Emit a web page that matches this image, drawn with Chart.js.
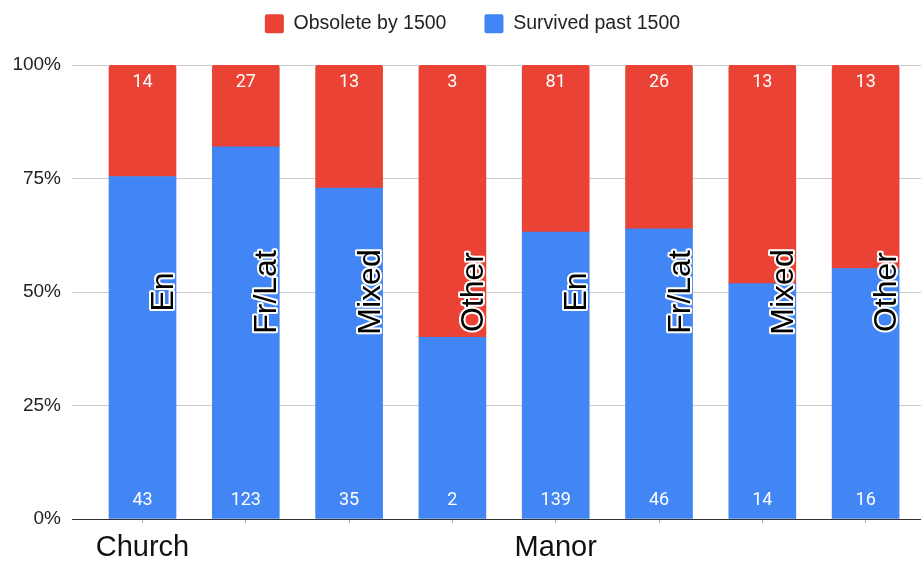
<!DOCTYPE html>
<html>
<head>
<meta charset="utf-8">
<script src="https://cdn.jsdelivr.net/npm/chart.js@4/dist/chart.umd.min.js"></script>
<style>
  html, body { margin: 0; padding: 0; background: #fff; }
  #wrap { width: 921px; height: 561px; }
</style>
</head>
<body>
<div id="wrap"><canvas id="c" width="921" height="561"></canvas></div>
<script>
// Word origin labels (one per bar) and the outer grouping row
const categories = ['En', 'Fr/Lat', 'Mixed', 'Other', 'En', 'Fr/Lat', 'Mixed', 'Other'];
const groupLabels = ['Church', 'Manor'];
const groupFirstBar = [0, 1];
const groupLastBar = [0, 7];

// Counts per bar
const survived = [43, 123, 35, 2, 139, 46, 14, 16];
const obsolete = [14, 27, 13, 3, 81, 26, 13, 13];

const seriesNames = ['Obsolete by 1500', 'Survived past 1500'];
const yTicks = [0, 25, 50, 75, 100];

const RED = '#EA4335';
const BLUE = '#4285F4';

// Shares of each bar's total, for the 100% stack
const totals = survived.map((s, i) => s + obsolete[i]);
const survivedPct = survived.map((s, i) => s / totals[i] * 100);
const obsoletePct = obsolete.map((o, i) => o / totals[i] * 100);

const toPoints = arr => arr.map((v, i) => ({ x: i, y: v }));

// Legend: fixed block height, and centred over the plot rather than the canvas
const legendPlacement = {
  id: 'legendPlacement',
  beforeInit(chart) {
    const fit = chart.legend.fit;
    chart.legend.fit = function () {
      fit.call(this);
      this.height = 89;
    };
  },
  afterLayout(chart) {
    chart.legend.left += 12;
    chart.legend.right += 12;
  }
};

// Count labels inside the segments, rotated category names, group row
const barText = {
  id: 'barText',
  afterDatasetsDraw(chart) {
    const ctx = chart.ctx;
    const blueMeta = chart.getDatasetMeta(0);
    const redMeta = chart.getDatasetMeta(1);
    const yScale = chart.scales.y;
    const xScale = chart.scales.x;
    ctx.save();
    ctx.fillStyle = '#fff';
    ctx.font = '18px Roboto';
    ctx.textAlign = 'center';
    ctx.textBaseline = 'middle';
    redMeta.data.forEach((el, i) => {
      ctx.fillText(String(obsolete[i]), el.x, el.y + 17);
    });
    blueMeta.data.forEach((el, i) => {
      ctx.fillText(String(survived[i]), el.x, el.base - 18);
    });

    // rotated names, reading upward, against the right side of each bar
    const yMid = yScale.getPixelForValue(50);
    ctx.font = '32px "Liberation Sans", Arial, sans-serif';
    ctx.textBaseline = 'alphabetic';
    ctx.lineJoin = 'round';
    blueMeta.data.forEach((el, i) => {
      const xr = el.x + el.width / 2 - 3;
      ctx.save();
      ctx.translate(xr, yMid);
      ctx.rotate(-Math.PI / 2);
      ctx.strokeStyle = '#fff';
      ctx.lineWidth = 4;
      ctx.strokeText(categories[i], 0, 0);
      ctx.fillStyle = '#000';
      ctx.fillText(categories[i], 0, 0);
      ctx.restore();
    });

    // outer group labels under the axis
    ctx.font = '29px "Liberation Sans", Arial, sans-serif';
    ctx.fillStyle = '#111';
    ctx.textBaseline = 'middle';
    groupLabels.forEach((g, k) => {
      const x = (xScale.getPixelForValue(groupFirstBar[k]) + xScale.getPixelForValue(groupLastBar[k])) / 2;
      ctx.fillText(g, x, chart.chartArea.bottom + 29);
    });
    ctx.restore();
  }
};

new Chart(document.getElementById('c'), {
  type: 'bar',
  data: {
    datasets: [
      {
        label: seriesNames[1],
        data: toPoints(survivedPct),
        backgroundColor: BLUE,
        borderWidth: 0
      },
      {
        label: seriesNames[0],
        data: toPoints(obsoletePct),
        backgroundColor: RED,
        borderWidth: 0,
        borderRadius: { topLeft: 3, topRight: 3, bottomLeft: 0, bottomRight: 0 },
        borderSkipped: 'bottom'
      }
    ]
  },
  options: {
    responsive: false,
    animation: false,
    events: [],
    layout: { padding: { top: -24, left: 0, right: 0, bottom: 0 } },
    datasets: { bar: { barThickness: 67 } },
    scales: {
      x: {
        type: 'linear',
        stacked: true,
        offset: false,
        min: -0.6825,
        max: 7.536,
        afterBuildTicks(scale) {
          scale.ticks = categories.map((_, i) => ({ value: i }));
        },
        afterFit(scale) { scale.height = 42; },
        ticks: { display: false },
        grid: { offset: false, drawOnChartArea: false, drawTicks: true, tickLength: 4, color: '#aaa' },
        border: { display: true, color: '#333', width: 1 }
      },
      y: {
        stacked: true,
        min: 0,
        max: 100,
        afterBuildTicks(scale) {
          scale.ticks = yTicks.map(v => ({ value: v }));
        },
        afterFit(scale) { scale.width = 72; },
        ticks: {
          padding: 11,
          color: '#222',
          font: { family: '"Liberation Sans", Arial, sans-serif', size: 19 },
          callback: v => v + '%'
        },
        grid: {
          drawTicks: false,
          color: ctx => ctx.tick && ctx.tick.value === 0 ? 'rgba(0,0,0,0)' : '#ccc'
        },
        border: { display: false }
      }
    },
    plugins: {
      legend: {
        position: 'top',
        reverse: true,
        labels: {
          boxWidth: 19,
          boxHeight: 19,
          padding: 38,
          color: '#222',
          font: { family: '"Liberation Sans", Arial, sans-serif', size: 19.5 },
          generateLabels(chart) {
            const items = Chart.defaults.plugins.legend.labels.generateLabels(chart);
            items.forEach(it => { it.borderRadius = 2; it.lineWidth = 0; });
            return items;
          },
          useBorderRadius: true,
          borderRadius: 2
        }
      },
      tooltip: { enabled: false }
    }
  },
  plugins: [legendPlacement, barText]
});
</script>
</body>
</html>
